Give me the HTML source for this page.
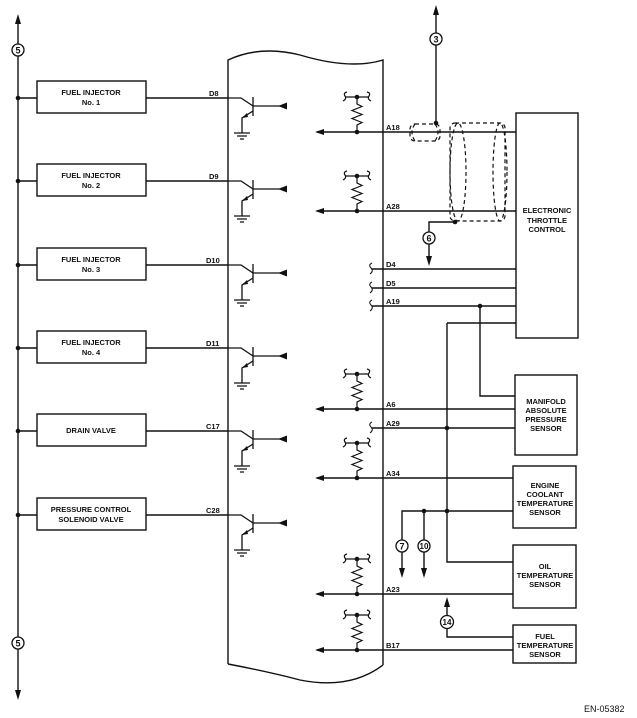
<!DOCTYPE html>
<html><head><style>
html,body{margin:0;padding:0;background:#fff;}
svg{display:block;}
text{font-family:"Liberation Sans",Arial,sans-serif;font-weight:bold;font-size:7.5px;fill:#111;}
.t{text-anchor:middle;}
</style></head><body>
<svg width="637" height="718" viewBox="0 0 637 718" xmlns="http://www.w3.org/2000/svg">
<defs>
<g id="tr" stroke="#111" stroke-width="1.3" fill="none">
<path d="M228,0 H241 L253,8"/>
<path d="M253,-1 V18"/>
<path d="M253,8 H280"/>
<polygon points="278,8 287,4.5 287,11.5" fill="#111" stroke="none"/>
<path d="M253,13 L242,20 V35"/>
<polygon points="242,20 247,15 248,19" fill="#111" stroke="none"/>
<path d="M234,35 H250 M237,38 H247 M240,41 H244"/>
</g>
<g id="rs" stroke="#111" stroke-width="1.2" fill="none">
<path d="M357,-35 V-28 L362,-25.5 L352,-21.5 L362,-17.5 L352,-13.5 L362,-9.5 L357,-7 V0"/>
<path d="M345,-35 H369"/>
<path d="M347,-40 Q343,-39 345,-36 Q347,-33 343,-31"/>
<path d="M367,-40 Q371,-39 369,-36 Q367,-33 371,-31"/>
<circle cx="357" cy="-35" r="2.3" fill="#111" stroke="none"/>
<circle cx="357" cy="0" r="2.3" fill="#111" stroke="none"/>
</g>
<g id="la"><polygon points="315,0 324,-3 324,3" fill="#111"/></g>
<g id="br" stroke="#111" stroke-width="1" fill="none"><path d="M372,-6 Q368,-4 371,-1 Q374,2 370,5"/></g>
</defs>

<g stroke="#111" stroke-width="1.4" fill="none">
<path d="M18,24 V690"/>
<path d="M228,664 V60 Q260,45 300,55 Q350,70 383,60 V665"/>
<path d="M228,664 Q270,672 300,680 Q350,690 383,665"/>
<rect x="37" y="81" width="109" height="32"/>
<rect x="37" y="164" width="109" height="32"/>
<rect x="37" y="248" width="109" height="32"/>
<rect x="37" y="331" width="109" height="32"/>
<rect x="37" y="414" width="109" height="32"/>
<rect x="37" y="498" width="109" height="32"/>
<path d="M18,98 H37 M146,98 H228"/>
<path d="M18,181 H37 M146,181 H228"/>
<path d="M18,265 H37 M146,265 H228"/>
<path d="M18,348 H37 M146,348 H228"/>
<path d="M18,431 H37 M146,431 H228"/>
<path d="M18,515 H37 M146,515 H228"/>
<rect x="516" y="113" width="62" height="225"/>
<rect x="515" y="375" width="62" height="80"/>
<rect x="513" y="466" width="63" height="62"/>
<rect x="513" y="545" width="63" height="63"/>
<rect x="513" y="625" width="63" height="38"/>
<path d="M317,132 H516"/>
<path d="M317,211 H516"/>
<path d="M372,269 H516"/>
<path d="M372,288 H516"/>
<path d="M372,306 H516"/>
<path d="M317,409 H515"/>
<path d="M372,428 H515"/>
<path d="M317,478 H513"/>
<path d="M317,594 H513"/>
<path d="M317,650 H513"/>
<path d="M447,323 H516"/>
<path d="M447,323 V562 H513"/>
<path d="M480,306 V396 H515"/>
<path d="M402,570 V511 H513"/>
<path d="M424,570 V511"/>
<path d="M447,622 V604"/>
<path d="M447,622 V637 H513"/>
<path d="M436,14 V122"/>
<path d="M455,222 H429 V258"/>
</g>
<g stroke="#111" stroke-width="1.2" fill="none" stroke-dasharray="4,3">
<rect x="410" y="124" width="30" height="17" rx="5"/>
<path d="M415,124 Q409,132 415,141"/>
<path d="M435,124 Q441,132 435,141"/>
<rect x="450" y="123" width="55" height="98" rx="5"/>
<ellipse cx="458" cy="172" rx="8" ry="49"/>
<ellipse cx="500" cy="172" rx="7" ry="49"/>
</g>
<g fill="#111">
<circle cx="18" cy="98" r="2.3"/><circle cx="18" cy="181" r="2.3"/><circle cx="18" cy="265" r="2.3"/>
<circle cx="18" cy="348" r="2.3"/><circle cx="18" cy="431" r="2.3"/><circle cx="18" cy="515" r="2.3"/>
<circle cx="436" cy="123" r="2.3"/><circle cx="455" cy="222" r="2.3"/>
<circle cx="480" cy="306" r="2.3"/><circle cx="447" cy="428" r="2.3"/>
<circle cx="447" cy="511" r="2.3"/><circle cx="424" cy="511" r="2.3"/>
<polygon points="18,14 15,24 21,24"/><polygon points="18,700 15,690 21,690"/>
<polygon points="436,5 433,15 439,15"/><polygon points="429,266 426,256 432,256"/>
<polygon points="402,578 399,568 405,568"/><polygon points="424,578 421,568 427,568"/>
<polygon points="447,597 444,607 450,607"/>
</g>
<use href="#tr" y="98"/><use href="#tr" y="181"/><use href="#tr" y="265"/>
<use href="#tr" y="348"/><use href="#tr" y="431"/><use href="#tr" y="515"/>
<use href="#rs" y="132"/><use href="#rs" y="211"/><use href="#rs" y="409"/>
<use href="#rs" y="478"/><use href="#rs" y="594"/><use href="#rs" y="650"/>
<use href="#la" y="132"/><use href="#la" y="211"/><use href="#la" y="409"/>
<use href="#la" y="478"/><use href="#la" y="594"/><use href="#la" y="650"/>
<use href="#br" y="269"/><use href="#br" y="288"/><use href="#br" y="306"/><use href="#br" y="428"/>
<g stroke="#111" stroke-width="1.3" fill="#fff">
<circle cx="18" cy="50" r="6"/><circle cx="18" cy="643" r="6"/>
<circle cx="436" cy="39" r="6"/><circle cx="429" cy="238" r="6"/>
<circle cx="402" cy="546" r="6"/><circle cx="424" cy="546" r="6"/>
<circle cx="447" cy="622" r="6.5"/>
</g>
<text class="t" x="18" y="53.5" style="font-size:9px">5</text>
<text class="t" x="18" y="646.5" style="font-size:9px">5</text>
<text class="t" x="436" y="42.5" style="font-size:9px">3</text>
<text class="t" x="429" y="241.5" style="font-size:9px">6</text>
<text class="t" x="402" y="549.5" style="font-size:9px">7</text>
<text class="t" x="424" y="549" style="font-size:8px">10</text>
<text class="t" x="447" y="625" style="font-size:8px">14</text>
<text class="t" x="91" y="95">FUEL INJECTOR</text><text class="t" x="91" y="105">No. 1</text>
<text class="t" x="91" y="178">FUEL INJECTOR</text><text class="t" x="91" y="188">No. 2</text>
<text class="t" x="91" y="262">FUEL INJECTOR</text><text class="t" x="91" y="272">No. 3</text>
<text class="t" x="91" y="345">FUEL INJECTOR</text><text class="t" x="91" y="355">No. 4</text>
<text class="t" x="91" y="433">DRAIN VALVE</text>
<text class="t" x="91" y="512">PRESSURE CONTROL</text><text class="t" x="91" y="522">SOLENOID VALVE</text>
<text class="t" x="547" y="213">ELECTRONIC</text><text class="t" x="547" y="223">THROTTLE</text><text class="t" x="547" y="232">CONTROL</text>
<text class="t" x="546" y="404">MANIFOLD</text><text class="t" x="546" y="413">ABSOLUTE</text><text class="t" x="546" y="422">PRESSURE</text><text class="t" x="546" y="431">SENSOR</text>
<text class="t" x="545" y="488">ENGINE</text><text class="t" x="545" y="497">COOLANT</text><text class="t" x="545" y="506">TEMPERATURE</text><text class="t" x="545" y="515">SENSOR</text>
<text class="t" x="545" y="569">OIL</text><text class="t" x="545" y="578">TEMPERATURE</text><text class="t" x="545" y="587">SENSOR</text>
<text class="t" x="545" y="639">FUEL</text><text class="t" x="545" y="648">TEMPERATURE</text><text class="t" x="545" y="657">SENSOR</text>
<text x="209" y="96">D8</text><text x="209" y="179">D9</text><text x="206" y="263">D10</text>
<text x="206" y="346">D11</text><text x="206" y="429">C17</text><text x="206" y="513">C28</text>
<text x="386" y="130">A18</text><text x="386" y="209">A28</text><text x="386" y="267">D4</text>
<text x="386" y="286">D5</text><text x="386" y="304">A19</text><text x="386" y="407">A6</text>
<text x="386" y="426">A29</text><text x="386" y="476">A34</text><text x="386" y="592">A23</text>
<text x="386" y="648">B17</text>
<text x="584" y="712" style="font-weight:normal;font-size:9px">EN-05382</text>
</svg>
</body></html>
